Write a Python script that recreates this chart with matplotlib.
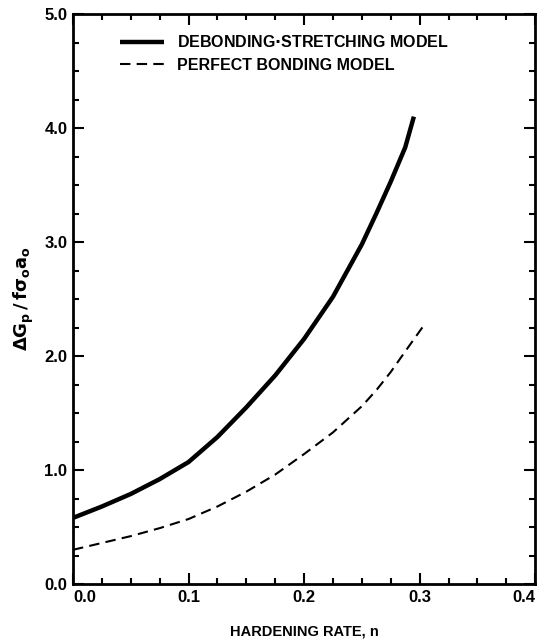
import matplotlib
matplotlib.use("Agg")
import matplotlib.pyplot as plt
from matplotlib.ticker import MultipleLocator

# values
n_debond = [0.0, 0.025, 0.05, 0.075, 0.1, 0.125, 0.15, 0.175, 0.2, 0.225, 0.25,
            0.2625, 0.275, 0.2875, 0.295]
g_debond = [0.58, 0.68, 0.79, 0.92, 1.07, 1.29, 1.55, 1.83, 2.15, 2.52, 2.98,
            3.25, 3.53, 3.83, 4.10]

n_perfect = [0.0, 0.025, 0.05, 0.075, 0.1, 0.125, 0.15, 0.175, 0.2, 0.225, 0.25,
             0.2625, 0.275, 0.2875, 0.303]
g_perfect = [0.30, 0.36, 0.42, 0.49, 0.57, 0.68, 0.81, 0.96, 1.14, 1.33, 1.56,
             1.70, 1.86, 2.04, 2.26]

x_ticks = [0.0, 0.1, 0.2, 0.3, 0.4]
y_ticks = [0.0, 1.0, 2.0, 3.0, 4.0, 5.0]

plt.rcParams['font.family'] = ['Liberation Sans', 'DejaVu Sans']
plt.rcParams['font.weight'] = 'bold'
plt.rcParams['mathtext.fontset'] = 'dejavusans'

fig = plt.figure(figsize=(5.45, 6.4), dpi=100)
ax = fig.add_axes([0.134, 0.0875, 0.848, 0.8906])

ax.plot(n_debond, g_debond, color='black', linewidth=3.2, solid_capstyle='butt',
        solid_joinstyle='round', label='DEBONDING$\\cdot$STRETCHING MODEL')
ax.plot(n_perfect, g_perfect, color='black', linewidth=1.5, dashes=(5, 3),
        label='PERFECT BONDING MODEL')

ax.set_xlim(0, 0.4)
ax.set_ylim(0, 5.0)
ax.set_xticks(x_ticks)
ax.set_yticks(y_ticks)
ax.set_xticklabels([f"{v:.1f}" for v in x_ticks], fontsize=12, fontweight='bold')
ax.set_yticklabels([f"{v:.1f}" for v in y_ticks], fontsize=12, fontweight='bold')
ax.xaxis.set_minor_locator(MultipleLocator(0.025))
ax.yaxis.set_minor_locator(MultipleLocator(0.25))
ax.tick_params(which='both', direction='in', top=True, right=True, width=1.5)
ax.tick_params(which='major', length=8, pad=4)
ax.tick_params(which='minor', length=4.5)
xlabels = ax.get_xticklabels()
xlabels[0].set_ha('left')
xlabels[-1].set_ha('right')

for sp in ax.spines.values():
    sp.set_linewidth(2)

ax.set_xlabel('HARDENING RATE, n', fontsize=10.5, fontweight='bold', labelpad=14)
ax.set_ylabel(r'$\mathbf{\Delta G_p\,/\,f\sigma_o a_o}$', fontsize=13, labelpad=6)

leg = ax.legend(loc='upper left', bbox_to_anchor=(0.07, 0.99), frameon=False,
                handlelength=2.8, handletextpad=0.8, labelspacing=0.5,
                prop={'size': 11.5, 'weight': 'bold'})

fig.savefig('out.png', dpi=100)
